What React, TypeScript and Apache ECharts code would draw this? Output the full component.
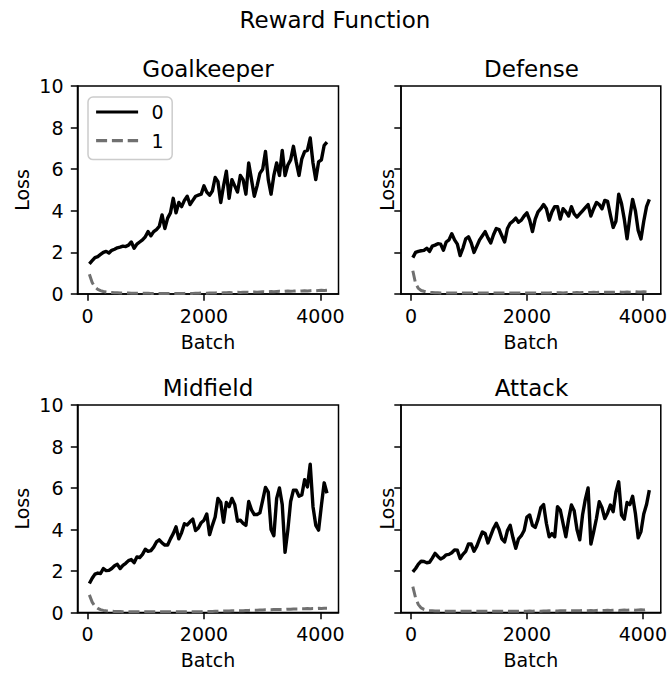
import React, { useEffect, useRef } from "react";
import * as echarts from "echarts";

const batches = [32, 80, 128, 176, 224, 272, 320, 368, 416, 464, 512, 560, 608, 656, 704, 752, 800, 848, 896, 944, 992, 1040, 1088, 1136, 1184, 1232, 1280, 1328, 1376, 1424, 1472, 1520, 1568, 1616, 1664, 1712, 1760, 1808, 1856, 1904, 1952, 2000, 2048, 2096, 2144, 2192, 2240, 2288, 2336, 2384, 2432, 2480, 2528, 2576, 2624, 2672, 2720, 2768, 2816, 2864, 2912, 2960, 3008, 3056, 3104, 3152, 3200, 3248, 3296, 3344, 3392, 3440, 3488, 3536, 3584, 3632, 3680, 3728, 3776, 3824, 3872, 3920, 3968, 4016, 4064, 4112];

const panelTitles = ["Goalkeeper", "Defense", "Midfield", "Attack"];
const seriesNames = ["0", "1"];
const xTicks = [0, 2000, 4000];

const goalkeeper0 = [1.45, 1.6, 1.75, 1.8, 1.9, 2.0, 2.05, 1.97, 2.1, 2.15, 2.22, 2.25, 2.3, 2.28, 2.35, 2.5, 2.2, 2.4, 2.5, 2.6, 2.75, 3.0, 2.8, 3.0, 3.1, 3.25, 3.8, 3.15, 3.65, 3.9, 4.6, 3.9, 4.4, 4.2, 4.5, 4.7, 4.3, 4.5, 4.7, 4.75, 4.8, 5.2, 4.9, 4.75, 4.95, 5.6, 5.4, 4.4, 5.2, 5.9, 4.6, 5.5, 5.2, 4.9, 5.7, 5.5, 4.8, 6.3, 5.5, 4.7, 5.2, 5.8, 6.0, 6.85, 5.5, 4.8, 5.7, 6.3, 5.7, 6.9, 5.7, 6.2, 6.45, 7.1, 6.35, 5.7, 6.5, 6.85, 6.9, 7.5, 6.3, 5.5, 6.35, 6.45, 7.15, 7.3];
const goalkeeper1 = [0.95, 0.55, 0.33, 0.22, 0.16, 0.12, 0.1, 0.08, 0.07, 0.06, 0.06, 0.05, 0.05, 0.05, 0.05, 0.04, 0.04, 0.04, 0.04, 0.04, 0.04, 0.04, 0.03, 0.03, 0.03, 0.03, 0.03, 0.03, 0.03, 0.03, 0.03, 0.03, 0.03, 0.03, 0.03, 0.04, 0.03, 0.03, 0.04, 0.04, 0.05, 0.04, 0.04, 0.05, 0.05, 0.05, 0.06, 0.05, 0.06, 0.06, 0.07, 0.06, 0.07, 0.08, 0.07, 0.08, 0.09, 0.08, 0.09, 0.1, 0.09, 0.1, 0.11, 0.1, 0.11, 0.12, 0.11, 0.12, 0.13, 0.12, 0.13, 0.14, 0.13, 0.14, 0.15, 0.14, 0.15, 0.16, 0.15, 0.16, 0.17, 0.16, 0.17, 0.18, 0.17, 0.18];

const defense0 = [1.75, 2.0, 2.05, 2.08, 2.1, 2.2, 2.05, 2.3, 2.35, 2.42, 2.4, 2.1, 2.5, 2.6, 2.9, 2.6, 2.4, 1.85, 2.2, 2.65, 2.75, 2.45, 2.0, 2.3, 2.6, 2.8, 3.0, 2.7, 2.45, 2.85, 3.15, 3.1, 2.8, 2.5, 3.15, 3.4, 3.5, 3.65, 3.45, 3.55, 3.75, 3.9, 3.55, 3.0, 3.6, 3.95, 4.1, 4.3, 4.1, 3.55, 3.95, 4.2, 4.2, 3.6, 4.1, 3.95, 3.75, 4.2, 3.85, 3.7, 3.85, 4.0, 4.15, 4.3, 3.75, 4.1, 4.4, 4.3, 4.1, 4.5, 4.45, 3.8, 3.2, 3.5, 4.8, 4.35, 3.6, 2.65, 3.7, 4.55, 4.0, 3.05, 2.65, 3.5, 4.2, 4.55];
const defense1 = [1.12, 0.5, 0.27, 0.17, 0.13, 0.1, 0.08, 0.07, 0.06, 0.06, 0.05, 0.05, 0.05, 0.05, 0.05, 0.05, 0.05, 0.05, 0.05, 0.05, 0.05, 0.05, 0.05, 0.05, 0.05, 0.05, 0.05, 0.05, 0.05, 0.05, 0.05, 0.05, 0.05, 0.05, 0.05, 0.05, 0.05, 0.05, 0.05, 0.05, 0.05, 0.05, 0.05, 0.05, 0.05, 0.05, 0.05, 0.05, 0.05, 0.05, 0.06, 0.05, 0.06, 0.06, 0.05, 0.06, 0.07, 0.06, 0.06, 0.07, 0.06, 0.07, 0.08, 0.07, 0.07, 0.08, 0.07, 0.08, 0.09, 0.08, 0.08, 0.09, 0.08, 0.09, 0.1, 0.09, 0.09, 0.1, 0.09, 0.1, 0.11, 0.1, 0.1, 0.11, 0.1, 0.11];

const midfield0 = [1.4, 1.65, 1.85, 1.9, 1.88, 2.12, 2.02, 2.03, 2.12, 2.25, 2.32, 2.12, 2.27, 2.37, 2.5, 2.55, 2.4, 2.68, 2.65, 2.8, 3.05, 2.95, 2.98, 3.15, 3.4, 3.5, 3.35, 3.25, 3.25, 3.55, 3.8, 4.13, 3.55, 3.85, 4.28, 4.22, 4.37, 4.5, 3.95, 4.07, 4.33, 4.45, 4.75, 3.75, 4.2, 4.6, 5.5, 5.3, 4.35, 5.3, 5.1, 5.5, 5.2, 4.4, 4.45, 4.3, 4.2, 5.35, 4.95, 4.72, 4.72, 4.8, 5.4, 6.03, 5.8, 4.0, 3.7, 5.5, 6.0, 5.2, 2.9, 3.97, 5.35, 5.9, 5.9, 5.6, 5.66, 6.4, 6.05, 7.15, 5.1, 4.2, 3.97, 5.15, 6.25, 5.75];
const midfield1 = [0.85, 0.5, 0.3, 0.2, 0.14, 0.1, 0.08, 0.07, 0.06, 0.05, 0.05, 0.05, 0.04, 0.04, 0.04, 0.04, 0.04, 0.04, 0.04, 0.04, 0.04, 0.04, 0.04, 0.04, 0.04, 0.04, 0.04, 0.04, 0.04, 0.04, 0.04, 0.04, 0.04, 0.04, 0.04, 0.04, 0.04, 0.04, 0.04, 0.04, 0.04, 0.05, 0.05, 0.05, 0.05, 0.06, 0.06, 0.06, 0.07, 0.07, 0.07, 0.08, 0.08, 0.09, 0.09, 0.09, 0.1, 0.1, 0.11, 0.11, 0.11, 0.12, 0.12, 0.13, 0.13, 0.13, 0.14, 0.14, 0.15, 0.15, 0.15, 0.16, 0.16, 0.17, 0.17, 0.17, 0.18, 0.18, 0.19, 0.18, 0.19, 0.19, 0.2, 0.19, 0.2, 0.2];

const attack0 = [1.96, 2.12, 2.33, 2.47, 2.46, 2.4, 2.42, 2.62, 2.85, 2.7, 2.58, 2.65, 2.78, 2.8, 2.88, 3.02, 3.0, 2.6, 2.8, 2.95, 3.3, 3.3, 2.95, 3.2, 3.55, 3.88, 3.81, 3.35, 3.7, 4.05, 4.3, 4.0, 3.55, 3.4, 3.95, 4.2, 3.6, 3.09, 3.55, 3.7, 3.95, 4.6, 4.7, 4.2, 4.1, 4.5, 5.05, 5.2, 4.3, 3.65, 3.8, 3.65, 5.1, 4.94, 4.29, 3.65, 4.5, 5.18, 4.9, 4.0, 3.5, 4.7, 5.45, 6.0, 3.3, 3.89, 4.53, 5.34, 5.05, 4.53, 4.8, 5.18, 4.86, 5.8, 6.3, 4.7, 4.5, 5.3, 5.2, 5.6, 4.77, 3.6, 3.9, 4.75, 5.2, 5.9];
const attack1 = [1.25, 0.7, 0.38, 0.22, 0.15, 0.11, 0.09, 0.08, 0.07, 0.07, 0.07, 0.06, 0.06, 0.06, 0.06, 0.06, 0.06, 0.06, 0.06, 0.06, 0.06, 0.06, 0.06, 0.06, 0.06, 0.06, 0.06, 0.06, 0.06, 0.06, 0.06, 0.06, 0.06, 0.06, 0.06, 0.06, 0.06, 0.06, 0.06, 0.06, 0.06, 0.06, 0.07, 0.06, 0.07, 0.07, 0.06, 0.07, 0.07, 0.08, 0.07, 0.08, 0.07, 0.08, 0.08, 0.09, 0.08, 0.08, 0.09, 0.08, 0.09, 0.1, 0.09, 0.09, 0.1, 0.09, 0.1, 0.11, 0.1, 0.1, 0.11, 0.1, 0.11, 0.12, 0.1, 0.11, 0.12, 0.11, 0.12, 0.13, 0.11, 0.12, 0.13, 0.12, 0.15, 0.18];

const panelSeries = [
  [goalkeeper0, goalkeeper1],
  [defense0, defense1],
  [midfield0, midfield1],
  [attack0, attack1],
];

const FONT = "DejaVu Sans";

export default function App() {
  const ref = useRef<HTMLDivElement>(null);

  useEffect(() => {
    if (!ref.current) return;
    const chart = echarts.init(ref.current, undefined, { renderer: "svg" });

    const grids = [
      { left: 77.5, top: 86, width: 261, height: 208 },
      { left: 401, top: 86, width: 261, height: 208 },
      { left: 77.5, top: 405, width: 261, height: 207.5 },
      { left: 401, top: 405, width: 261, height: 207.5 },
    ];

    const series: any[] = [];
    panelSeries.forEach((pair, p) => {
      pair.forEach((vals, s) => {
        series.push({
          name: seriesNames[s],
          type: "line",
          xAxisIndex: p,
          yAxisIndex: p,
          symbol: "none",
          showSymbol: false,
          z: s === 0 ? 3 : 2,
          data: batches.map((b, i) => [b, vals[i]]),
          lineStyle:
            s === 0
              ? { color: "#000000", width: 3.4, join: "round" }
              : { color: "#707070", width: 3, type: [11, 4.8] },
          itemStyle: { color: s === 0 ? "#000000" : "#707070" },
        });
      });
    });

    const option: any = {
      animation: false,
      textStyle: { fontFamily: FONT },
      grid: grids.map((g) => ({
        ...g,
        show: true,
        borderColor: "#000",
        borderWidth: 1.5,
        backgroundColor: "transparent",
      })),
      xAxis: grids.map((_, i) => ({
        gridIndex: i,
        type: "value",
        min: -172,
        max: 4310,
        axisLine: { onZero: false, lineStyle: { color: "#000", width: 1.5 } },
        axisTick: {
          customValues: xTicks,
          length: 6.7,
          lineStyle: { color: "#000", width: 1.5 },
        },
        axisLabel: {
          customValues: xTicks,
          formatter: (v: number) => String(v),
          color: "#000",
          fontSize: 19,
          fontFamily: FONT,
          margin: 12,
        },
        splitLine: { show: false },
        name: "Batch",
        nameLocation: "middle",
        nameGap: 38,
        nameTextStyle: { fontSize: 19, color: "#000", fontFamily: FONT },
      })),
      yAxis: grids.map((_, i) => ({
        gridIndex: i,
        type: "value",
        min: 0,
        max: 10,
        interval: 2,
        axisLine: { onZero: false, lineStyle: { color: "#000", width: 1.5 } },
        axisTick: { length: 6.7, lineStyle: { color: "#000", width: 1.5 } },
        axisLabel: {
          show: i % 2 === 0,
          color: "#000",
          fontSize: 19,
          fontFamily: FONT,
          margin: 14,
        },
        splitLine: { show: false },
        name: "Loss",
        nameLocation: "middle",
        nameGap: i % 2 === 0 ? 46 : 5,
        nameTextStyle: { fontSize: 19, color: "#000", fontFamily: FONT },
      })),
      legend: {
        data: seriesNames,
        orient: "vertical",
        left: 88,
        top: 97,
        itemWidth: 42,
        itemHeight: 14,
        itemGap: 9.6,
        padding: [5.5, 8.5, 9.5, 6.5],
        selectedMode: false,
        borderColor: "#cccccc",
        borderWidth: 1.5,
        borderRadius: 5,
        backgroundColor: "rgba(255,255,255,0.8)",
        itemStyle: { opacity: 0 },
        lineStyle: { width: 3.2 },
        textStyle: {
          fontSize: 19,
          color: "#000",
          fontFamily: FONT,
          lineHeight: 19,
          padding: [0, 0, 0, 8.5],
        },
      },
      graphic: [
        {
          type: "text",
          x: 335,
          y: 20,
          style: {
            text: "Reward Function",
            fontSize: 23,
            fontFamily: FONT,
            fill: "#000",
            align: "center",
            verticalAlign: "middle",
          },
        },
        ...panelTitles.map((t, i) => ({
          type: "text",
          x: grids[i].left + grids[i].width / 2,
          y: grids[i].top - 17,
          style: {
            text: t,
            fontSize: 23,
            fontFamily: FONT,
            fill: "#000",
            align: "center",
            verticalAlign: "middle",
          },
        })),
      ],
      series,
    };

    chart.setOption(option);
    return () => chart.dispose();
  }, []);

  return (
    <div
      ref={ref}
      style={{ position: "fixed", left: 0, top: 0, width: 670, height: 675, background: "#fff" }}
    />
  );
}
